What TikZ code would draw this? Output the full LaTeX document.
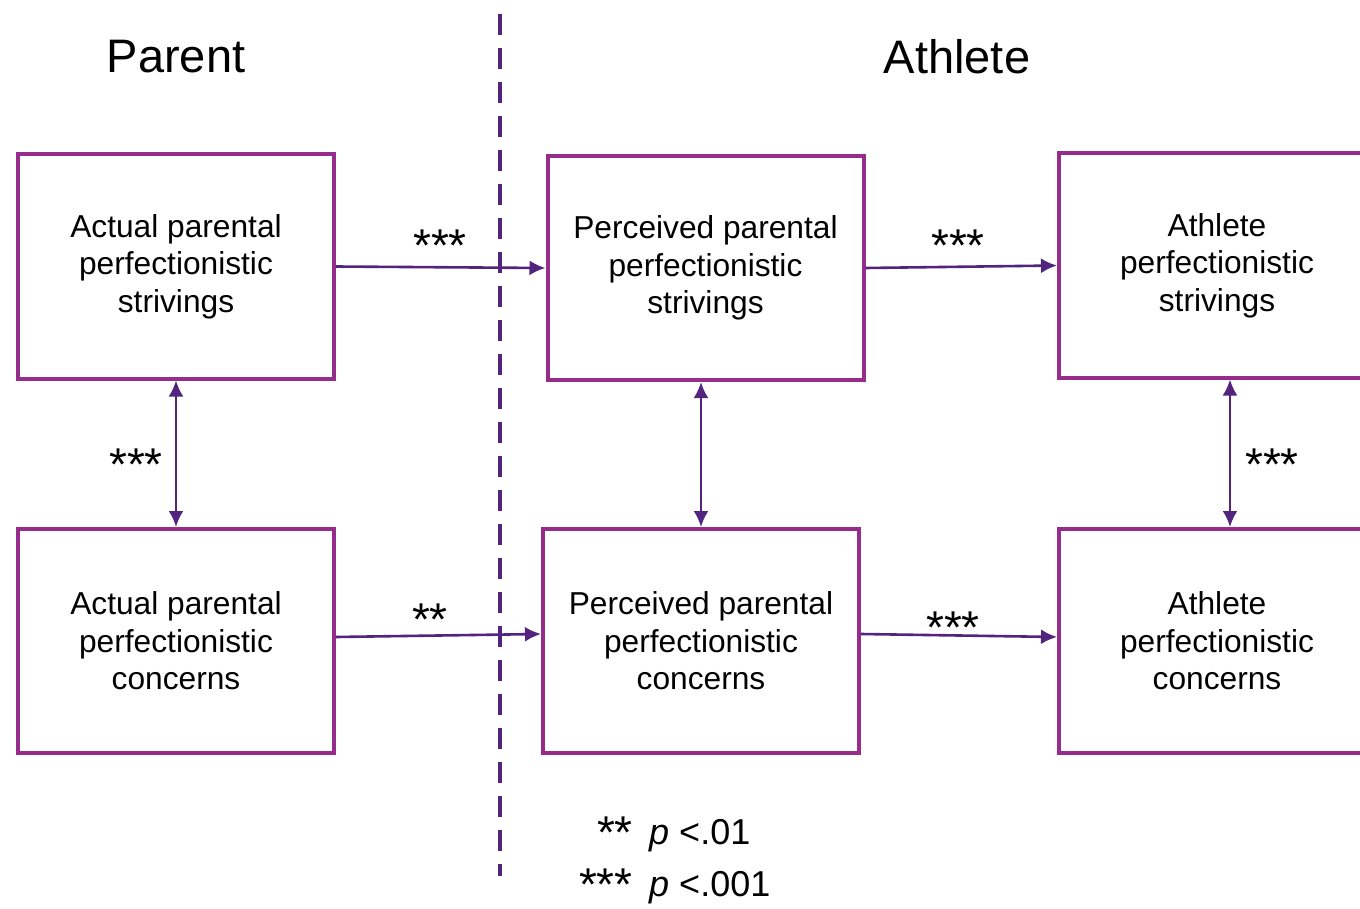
\documentclass[tikz,border=0pt]{standalone}
\usepackage{fontspec}
\setmainfont{Liberation Sans}
\usetikzlibrary{arrows.meta,positioning}

\definecolor{boxpurple}{RGB}{150,45,140}
\definecolor{arrowpurple}{RGB}{82,36,128}

\tikzset{
  box/.style={draw=boxpurple, line width=4pt, minimum width=316pt, minimum height=224pt,
    inner sep=0pt, align=center, font=\fontsize{31.7}{37.5}\selectfont},
  conn/.style={draw=arrowpurple, line width=2.6pt, -{Latex[length=16pt,width=15pt]}},
  twoway/.style={conn, {Latex[length=16pt,width=15pt]}-{Latex[length=16pt,width=15pt]}},
  stars/.style={font=\fontsize{46}{46}\selectfont, inner sep=0pt},
  title/.style={font=\fontsize{47}{47}\selectfont},
  legend/.style={font=\fontsize{36}{36}\selectfont, inner sep=0pt}
}

\begin{document}
\begin{tikzpicture}[x=1pt, y=-1pt]
\useasboundingbox (0,0) rectangle (1360,909);

% headings and divider
\node[title] (parent) at (176,57) {Parent};
\node[title] (athlete) at (957,57) {Athlete};
\draw[arrowpurple, line width=4.5pt, dash pattern=on 21pt off 13pt] (500,14) -- (500,876);

% boxes
\node[box] (aps) at (176,266.5) {Actual parental\\perfectionistic\\strivings};
\node[box] (apc) at (176,641) {Actual parental\\perfectionistic\\concerns};
\node[box] (pps) at (705.5,268) {Perceived parental\\perfectionistic\\strivings};
\node[box] (ppc) at (701,641) {Perceived parental\\perfectionistic\\concerns};
\node[box] (ats) at (1217,265.5) {Athlete\\perfectionistic\\strivings};
\node[box] (atc) at (1217,641) {Athlete\\perfectionistic\\concerns};

% paths
\draw[conn] (aps.east) -- (pps.west);
\draw[conn] ([yshift=4pt]apc.east) -- ([yshift=7pt]ppc.west);
\draw[conn] (pps.east) -- (ats.west);
\draw[conn] ([yshift=7pt]ppc.east) -- ([yshift=4pt]atc.west);
\draw[twoway] (aps.south) -- (apc.north);
\draw[twoway] (pps.south -| ppc.north) -- (ppc.north);
\draw[twoway] ([xshift=13pt]ats.south) -- ([xshift=13pt]atc.north);

% significance
\node[stars] (s1) at (440,246) {***};
\node[stars] (s2) at (430,620) {**};
\node[stars] (s3) at (958,246) {***};
\node[stars] (s4) at (953,628) {***};
\node[stars] (s5) at (136,465) {***};
\node[stars] (s6) at (1272,465) {***};

% legend
\node[stars, anchor=east] (k1) at (633,833) {**};
\node[legend, anchor=west] (k1p) at (649,836) {\textit{p} <.01};
\node[stars, anchor=east] (k2) at (633,885) {***};
\node[legend, anchor=west] (k2p) at (649,888) {\textit{p} <.001};
\end{tikzpicture}
\end{document}
